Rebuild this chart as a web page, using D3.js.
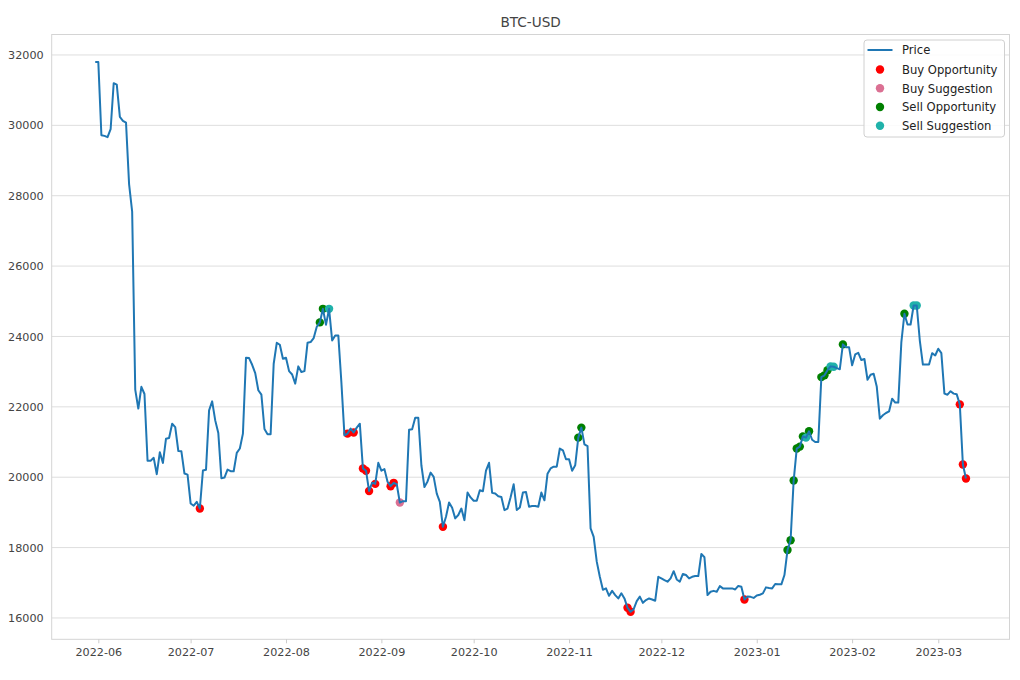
<!DOCTYPE html>
<html>
<head>
<meta charset="utf-8">
<script src="https://cdn.jsdelivr.net/npm/d3@7"></script>
<style>
  body { margin: 0; background: #fff; }
  svg { display: block; font-family: "DejaVu Sans", sans-serif; }
</style>
</head>
<body>
<svg id="chart" width="1020" height="680"></svg>
<script>
// ---------- data ----------
const title = "BTC-USD";
const startDate = "2022-05-31"; // first daily observation
const price = [
  31800, 31800, 29720, 29700, 29665, 29890, 31197, 31158, 30241, 30128,
  30080, 28330, 27546, 22490, 21950, 22570, 22365, 20470, 20470, 20550,
  20085, 20710, 20405, 21095, 21115, 21520, 21425, 20745, 20735, 20105,
  20075, 19255, 19190, 19300, 19110, 20190, 20210, 21900, 22155, 21615,
  21255, 19970, 19990, 20215, 20170, 20170, 20690, 20815, 21240, 23395,
  23385, 23195, 22960, 22470, 22345, 21370, 21220, 21220, 23225, 23820,
  23765, 23365, 23395, 23015, 22920, 22660, 23150, 22990, 23015, 23820,
  23840, 23955, 24275, 24400, 24785, 24330, 24785, 23885, 24030, 24030,
  22700, 21190, 21240, 21380, 21270, 21410, 21520, 20250, 20185, 19610,
  19845, 19810, 20410, 20185, 20230, 19870, 19745, 19840, 19800, 19280,
  19320, 19320, 21350, 21365, 21690, 21690, 20340, 19720, 19880, 20130,
  20010, 19535, 19300, 18590, 18875, 19280, 19130, 18830, 18925, 19110,
  18780, 19565, 19425, 19330, 19330, 19630, 19600, 20185, 20410, 19555,
  19535, 19460, 19440, 19065, 19110, 19430, 19800, 19070, 19140, 19565,
  19580, 19160, 19180, 19180, 19160, 19565, 19345, 20100, 20250, 20300,
  20300, 20815, 20765, 20510, 20510, 20185, 20340, 21125, 21410, 20935,
  20885, 18545, 18305, 17600, 17170, 16800, 16840, 16630, 16770, 16650,
  16555, 16700, 16555, 16290, 16175, 16250, 16480, 16605, 16430, 16510,
  16555, 16525, 16490, 17170, 17125, 17075, 17030, 17125, 17330, 17095,
  17030, 17250, 17220, 17125, 17170, 17190, 17190, 17820, 17725, 16650,
  16745, 16770, 16745, 16905, 16840, 16840, 16840, 16840, 16810, 16910,
  16885, 16525, 16610, 16600, 16570, 16640, 16660, 16700, 16870, 16850,
  16840, 16965, 16960, 16955, 17220, 17930, 18210, 19905, 20815, 20870,
  21160, 21125, 21305, 21065, 21000, 21000, 22845, 22895, 23040, 23150,
  23140, 23100, 23070, 23775, 23695, 23695, 23180, 23490, 23535, 23330,
  23360, 22770, 22910, 22940, 22580, 21665, 21760, 21825, 21870, 22230,
  22120, 22120, 23840, 24645, 24340, 24340, 24880, 24880, 23885, 23200,
  23200, 23200, 23525, 23460, 23650, 23525, 22375, 22345, 22445, 22375,
  22355, 22070, 20360, 19965
];
const buyOpportunity = ["2022-07-04","2022-08-21","2022-08-23","2022-08-26","2022-08-27",
  "2022-08-28","2022-08-30","2022-09-04","2022-09-05","2022-09-21","2022-11-20",
  "2022-11-21","2022-12-28","2023-03-08","2023-03-09","2023-03-10"];
const buySuggestion = ["2022-09-07"];
const sellOpportunity = ["2022-08-12","2022-08-13","2022-11-04","2022-11-05","2023-01-11",
  "2023-01-12","2023-01-13","2023-01-14","2023-01-15","2023-01-16","2023-01-18",
  "2023-01-22","2023-01-23","2023-01-24","2023-01-29","2023-02-18"];
const sellSuggestion = ["2022-08-15","2023-01-17","2023-01-25","2023-01-26","2023-02-21","2023-02-22"];
const yTicks = [16000, 18000, 20000, 22000, 24000, 26000, 28000, 30000, 32000];
const xTicks = ["2022-06-01","2022-07-01","2022-08-01","2022-09-01","2022-10-01",
  "2022-11-01","2022-12-01","2023-01-01","2023-02-01","2023-03-01"];
const legendLabels = ["Price", "Buy Opportunity", "Buy Suggestion", "Sell Opportunity", "Sell Suggestion"];

(function () {
// ---------- build ----------
const parse = d3.utcParse("%Y-%m-%d");
const fmt = d3.utcFormat("%Y-%m-%d");
const t0 = parse(startDate);
const series = price.map((v, i) => ({ date: d3.utcDay.offset(t0, i), value: v }));
const byDate = new Map(series.map(d => [fmt(d.date), d]));

const svg = d3.select("#chart");
const pL = 51.7, pR = 1009.5, pT = 34.5, pB = 639.3;

const xExt = d3.extent(series, d => d.date);
const xSpan = xExt[1] - xExt[0];
const x = d3.scaleUtc()
  .domain([new Date(+xExt[0] - 0.05 * xSpan), new Date(+xExt[1] + 0.05 * xSpan)])
  .range([pL, pR]);
const yExt = d3.extent(series, d => d.value);
const ySpan = yExt[1] - yExt[0];
const y = d3.scaleLinear()
  .domain([yExt[0] - 0.05 * ySpan, yExt[1] + 0.05 * ySpan])
  .range([pB, pT]);

// grid
svg.append("g").selectAll("line").data(yTicks).join("line")
  .attr("x1", pL).attr("x2", pR)
  .attr("y1", d => y(d)).attr("y2", d => y(d))
  .attr("stroke", "#dedede").attr("stroke-width", 1);

// frame
svg.append("rect").attr("x", pL).attr("y", pT)
  .attr("width", pR - pL).attr("height", pB - pT)
  .attr("fill", "none").attr("stroke", "#d4d4d4").attr("stroke-width", 1);

// axes
const xAxis = d3.axisBottom(x).tickValues(xTicks.map(parse)).tickFormat(d3.utcFormat("%Y-%m"))
  .tickSize(4).tickPadding(5);
const gx = svg.append("g").attr("transform", `translate(0,${pB})`).call(xAxis);
gx.select(".domain").remove();
gx.selectAll(".tick line").attr("stroke", "#cccccc");
gx.selectAll(".tick text").attr("fill", "#444").attr("font-size", 11.2)
  .attr("font-family", "DejaVu Sans");

const yAxis = d3.axisLeft(y).tickValues(yTicks).tickFormat(d3.format("d")).tickSize(0).tickPadding(8);
const gy = svg.append("g").attr("transform", `translate(${pL},0)`).call(yAxis);
gy.select(".domain").remove();
gy.selectAll(".tick text").attr("fill", "#444").attr("font-size", 11.2)
  .attr("font-family", "DejaVu Sans");

// title
svg.append("text").attr("x", (pL + pR) / 2).attr("y", 27)
  .attr("text-anchor", "middle").attr("font-size", 13.6).attr("fill", "#444")
  .text(title);

// markers (drawn below the line)
const groups = [
  { dates: buyOpportunity, color: "#ff0000" },
  { dates: buySuggestion, color: "#db7093" },
  { dates: sellOpportunity, color: "#008000" },
  { dates: sellSuggestion, color: "#20b2aa" }
];
groups.forEach(g => {
  svg.append("g").selectAll("circle")
    .data(g.dates.map(s => byDate.get(s)).filter(Boolean))
    .join("circle")
    .attr("cx", d => x(d.date)).attr("cy", d => y(d.value))
    .attr("r", 4.2).attr("fill", g.color);
});

// price line
svg.append("path").datum(series)
  .attr("fill", "none").attr("stroke", "#1f77b4").attr("stroke-width", 2)
  .attr("stroke-linejoin", "round")
  .attr("d", d3.line().x(d => x(d.date)).y(d => y(d.value)));

// legend
const lg = svg.append("g");
lg.append("rect").attr("x", 864).attr("y", 40).attr("width", 140.5).attr("height", 97)
  .attr("rx", 3).attr("fill", "white").attr("fill-opacity", 0.85)
  .attr("stroke", "#d0d0d0");
const rowY = [50, 69.5, 88.3, 107, 125.8];
lg.append("line").attr("x1", 867.5).attr("x2", 892.5).attr("y1", rowY[0]).attr("y2", rowY[0])
  .attr("stroke", "#1f77b4").attr("stroke-width", 2);
groups.forEach((g, i) => {
  lg.append("circle").attr("cx", 880).attr("cy", rowY[i + 1]).attr("r", 4.2).attr("fill", g.color);
});
lg.selectAll("text.lab").data(legendLabels).join("text")
  .attr("class", "lab")
  .attr("x", 902).attr("y", (d, i) => rowY[i] + 4.2)
  .attr("font-size", 11.6).attr("fill", "#222")
  .text(d => d);
})();
</script>
</body>
</html>
